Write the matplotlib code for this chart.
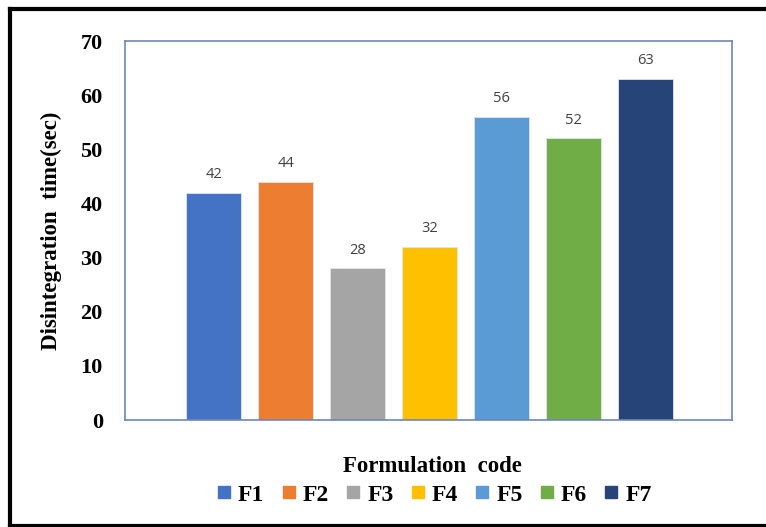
import matplotlib
matplotlib.use("Agg")
import matplotlib.pyplot as plt
from matplotlib.lines import Line2D

codes = ["F1", "F2", "F3", "F4", "F5", "F6", "F7"]
times = [42, 44, 28, 32, 56, 52, 63]
colors = ["#4472C4", "#ED7D31", "#A5A5A5", "#FFC000", "#5B9BD5", "#70AD47", "#264478"]
yticks = [0, 10, 20, 30, 40, 50, 60, 70]

serif = ["Liberation Serif", "DejaVu Serif"]

fig = plt.figure(figsize=(7.66, 5.27), dpi=100)
ax = fig.add_axes([0.1632, 0.2030, 0.7924, 0.7192])

x = list(range(len(codes)))
bars = ax.bar(x, times, width=0.77, color=colors, edgecolor="#dfe6f2", linewidth=0.6, zorder=2)
for b, v in zip(bars, times):
    ax.annotate(str(v), (b.get_x() + b.get_width() / 2, v), xytext=(0, 13),
                textcoords="offset points", ha="center", va="center",
                fontsize=10.5, color="#404040", family=["Open Sans", "DejaVu Sans"])

ax.set_xlim(-1.23, 7.2)
ax.set_ylim(0, 70)
ax.set_yticks(yticks)
ax.set_yticklabels([str(t) for t in yticks], fontsize=16, fontweight="bold", family=serif)
ax.set_xticks([])
ax.tick_params(axis="y", length=0, pad=16)
for s in ax.spines.values():
    s.set_color("#6f86b5")
    s.set_linewidth(1.2)

ax.set_ylabel("Disintegration  time(sec)", fontsize=16.5, fontweight="bold", family=serif, labelpad=13)

fig.text(0.565, 0.114, "Formulation  code", ha="center", va="center",
         fontsize=16.5, fontweight="bold", family=serif)

handles = [Line2D([], [], marker="s", linestyle="none", markersize=8, color=c) for c in colors]
fig.legend(handles, codes, loc="center", bbox_to_anchor=(0.567, 0.061), ncol=7, frameon=False,
           prop={"family": serif, "weight": "bold", "size": 17},
           handlelength=0.6, handletextpad=0.3, columnspacing=0.72)

# frame drawn around the figure on the left, top and bottom
fig.add_artist(Line2D([0.0130, 0.0130], [0.002, 0.983], transform=fig.transFigure, color="black", linewidth=3))
fig.add_artist(Line2D([0.0130, 1.0], [0.983, 0.983], transform=fig.transFigure, color="black", linewidth=3))
fig.add_artist(Line2D([0.0130, 1.0], [0.002, 0.002], transform=fig.transFigure, color="black", linewidth=3))

fig.savefig("out.png", dpi=100)
